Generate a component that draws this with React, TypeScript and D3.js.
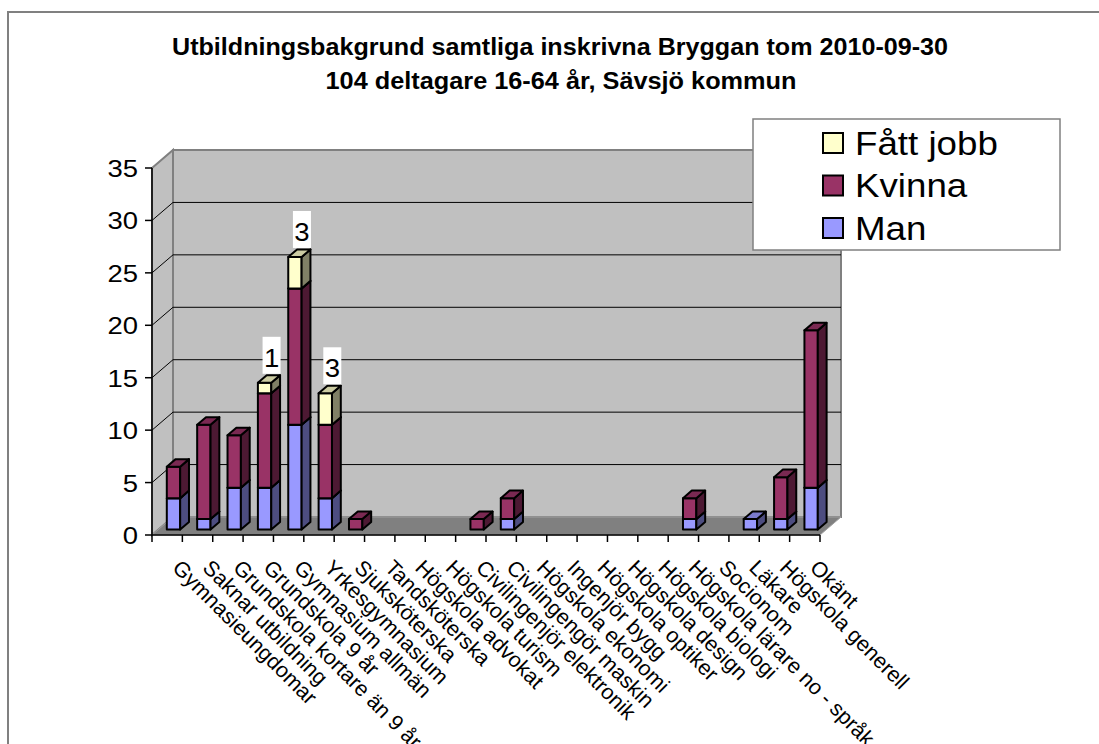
import React from 'react';
import * as d3 from 'd3';

// Chart data
const categories = [
  'Gymnasieungdomar',
  'Saknar utbildning',
  'Grundskola kortare än 9 år',
  'Grundskola 9 år',
  'Gymnasium allmän',
  'Yrkesgymnasium',
  'Sjuksköterska',
  'Tandsköterska',
  'Högskola advokat',
  'Högskola turism',
  'Civilingenjör elektronik',
  'Civilingengör maskin',
  'Högskola ekonomi',
  'Ingenjör bygg',
  'Högskola optiker',
  'Högskola design',
  'Högskola biologi',
  'Högskola lärare no - språk',
  'Socionom',
  'Läkare',
  'Högskola generell',
  'Okänt',
];
const manValues = [3, 1, 4, 4, 10, 3, 0, 0, 0, 0, 0, 1, 0, 0, 0, 0, 0, 1, 0, 1, 1, 4];
const kvinnaValues = [3, 9, 5, 9, 13, 7, 1, 0, 0, 0, 1, 2, 0, 0, 0, 0, 0, 2, 0, 0, 4, 15];
const fattJobbValues = [0, 0, 0, 1, 3, 3, 0, 0, 0, 0, 0, 0, 0, 0, 0, 0, 0, 0, 0, 0, 0, 0];
const yTicks = [0, 5, 10, 15, 20, 25, 30, 35];
const seriesNames = ['Man', 'Kvinna', 'Fått jobb'];

const titleLine1 = 'Utbildningsbakgrund samtliga inskrivna Bryggan tom 2010-09-30';
const titleLine2 = '104 deltagare 16-64 år, Sävsjö kommun';

const FONT = '"Liberation Sans", Arial, sans-serif';

// front / side / top colours per series
const palette: Record<string, { front: string; side: string; top: string }> = {
  'Man': { front: '#9999FF', side: '#4D4D80', top: '#7A7ACC' },
  'Kvinna': { front: '#993366', side: '#4D1933', top: '#7A2952' },
  'Fått jobb': { front: '#FFFFCC', side: '#808066', top: '#CCCCA3' },
};

const App: React.FC = () => {
  const width = 1099;
  const height = 744;

  // 3D depth offset of the back wall
  const DX = 21;
  const DY = 18;
  const z0 = 0.3; // bar front depth
  const z1 = 0.72; // bar back depth

  const x = d3.scaleBand<string>()
    .domain(categories)
    .range([152, 820])
    .paddingInner(0.56)
    .paddingOuter(0.28);
  const step = x.step();
  const bw = x.bandwidth();

  const y = d3.scaleLinear().domain([0, 35]).range([535, 168]);

  const xLeft = 152;
  const xRight = 820;
  const y0 = y(0);
  const yTop = y(35);

  const pts = (arr: [number, number][]) => arr.map(p => p.join(',')).join(' ');

  // stacked segments
  const stack = d3.stack<number>()
    .keys(seriesNames)
    .value((i, key) => key === 'Man' ? manValues[i] : key === 'Kvinna' ? kvinnaValues[i] : fattJobbValues[i]);
  const stacked = stack(d3.range(categories.length));

  const bars: JSX.Element[] = [];
  categories.forEach((cat, i) => {
    const bx = (x(cat) as number) + z0 * DX;
    const ddx = (z1 - z0) * DX;
    const ddy = (z1 - z0) * DY;
    stacked.forEach(layer => {
      const [lo, hi] = layer[i];
      if (hi - lo <= 0) return;
      const c = palette[layer.key];
      const yb = y(lo) - z0 * DY;
      const yt = y(hi) - z0 * DY;
      bars.push(
        <g key={`${i}-${layer.key}`} stroke="#000" strokeWidth={2} strokeLinejoin="round">
          <rect x={bx} y={yt} width={bw} height={yb - yt} fill={c.front} />
          <polygon fill={c.side} points={pts([[bx + bw, yb], [bx + bw, yt], [bx + bw + ddx, yt - ddy], [bx + bw + ddx, yb - ddy]])} />
          <polygon fill={c.top} points={pts([[bx, yt], [bx + bw, yt], [bx + bw + ddx, yt - ddy], [bx + ddx, yt - ddy]])} />
        </g>
      );
    });
  });

  // data labels for "Fått jobb"
  const labels = categories.map((cat, i) => {
    const f = fattJobbValues[i];
    if (!f) return null;
    const total = manValues[i] + kvinnaValues[i] + f;
    const cx = (x(cat) as number) + z0 * DX + bw / 2 + 7;
    const bottom = y(total) - z0 * DY - 9;
    return (
      <g key={`lab-${i}`}>
        <rect x={cx - 9} y={bottom - 37} width={18} height={37} fill="#fff" />
        <text x={cx} y={bottom - 7} textAnchor="middle" fontFamily={FONT} fontSize={25}
          transform={`translate(${cx},0) scale(1.1,1) translate(${-cx},0)`} fill="#000">{f}</text>
      </g>
    );
  });

  return (
    <svg width={width} height={height} style={{ position: 'absolute', left: 0, top: 0 }}>
      <rect x={0} y={0} width={width} height={height} fill="#fff" />
      {/* outer chart frame */}
      <rect x={8} y={12} width={1120} height={760} fill="#fff" stroke="#808080" strokeWidth={2} />

      {/* title */}
      <text x={560} y={55} textAnchor="middle" fontFamily={FONT} fontWeight="bold" fontSize={23.5}
        textLength={776} lengthAdjust="spacingAndGlyphs">{titleLine1}</text>
      <text x={561} y={89} textAnchor="middle" fontFamily={FONT} fontWeight="bold" fontSize={23.5}
        textLength={471} lengthAdjust="spacingAndGlyphs">{titleLine2}</text>

      {/* walls and floor */}
      <polygon points={pts([[xLeft + DX, yTop - DY], [xRight + DX, yTop - DY], [xRight + DX, y0 - DY], [xLeft + DX, y0 - DY]])}
        fill="#C0C0C0" stroke="#808080" strokeWidth={2} />
      <polygon points={pts([[xLeft, yTop], [xLeft + DX, yTop - DY], [xLeft + DX, y0 - DY], [xLeft, y0]])}
        fill="#C0C0C0" stroke="#808080" strokeWidth={2} />
      <polygon points={pts([[xLeft, y0], [xRight, y0], [xRight + DX, y0 - DY], [xLeft + DX, y0 - DY]])}
        fill="#808080" stroke="#A0A0A0" strokeWidth={1} />

      {/* gridlines */}
      {yTicks.filter(t => t > 0 && t < 35).map(t => (
        <g key={`grid-${t}`} stroke="#000" strokeWidth={1}>
          <line x1={xLeft + DX} x2={xRight + DX} y1={y(t) - DY} y2={y(t) - DY} />
          <line x1={xLeft} x2={xLeft + DX} y1={y(t)} y2={y(t) - DY} />
        </g>
      ))}

      {/* y axis */}
      <line x1={xLeft} x2={xLeft} y1={yTop} y2={y0} stroke="#000" strokeWidth={1.5} />
      {yTicks.map(t => (
        <g key={`yt-${t}`}>
          <line x1={xLeft - 7} x2={xLeft} y1={y(t)} y2={y(t)} stroke="#000" strokeWidth={1.5} />
          <text x={138} y={y(t) + 9} textAnchor="end" fontFamily={FONT} fontSize={24.5}
            transform={`translate(138,0) scale(1.12,1) translate(-138,0)`} fill="#000">{t}</text>
        </g>
      ))}

      {/* x axis */}
      <line x1={xLeft} x2={xRight} y1={y0} y2={y0} stroke="#000" strokeWidth={1.5} />
      {d3.range(categories.length + 1).map(k => (
        <line key={`xt-${k}`} x1={xLeft + k * step} x2={xLeft + k * step} y1={y0} y2={y0 + 7} stroke="#000" strokeWidth={1.5} />
      ))}
      {categories.map(cat => {
        const cx = (x(cat) as number) + bw / 2;
        return (
          <text key={`xl-${cat}`} transform={`translate(${cx + 4},569) rotate(45)`}
            fontFamily={FONT} fontSize={21.5} fill="#000">{cat}</text>
        );
      })}

      {/* bars */}
      {bars}
      {labels}

      {/* legend */}
      <rect x={753} y={119} width={307} height={131} fill="#fff" stroke="#808080" strokeWidth={1.5} />
      {['Fått jobb', 'Kvinna', 'Man'].map((name, k) => {
        const cy = 143 + k * 42.5;
        return (
          <g key={`leg-${name}`}>
            <rect x={823} y={cy - 10} width={20} height={20} fill={palette[name].front} stroke="#000" strokeWidth={2} />
            <text x={855} y={cy + 12} fontFamily={FONT} fontSize={34}
              transform={`translate(855,0) scale(1.08,1) translate(-855,0)`} fill="#000">{name}</text>
          </g>
        );
      })}
    </svg>
  );
};

export default App;
